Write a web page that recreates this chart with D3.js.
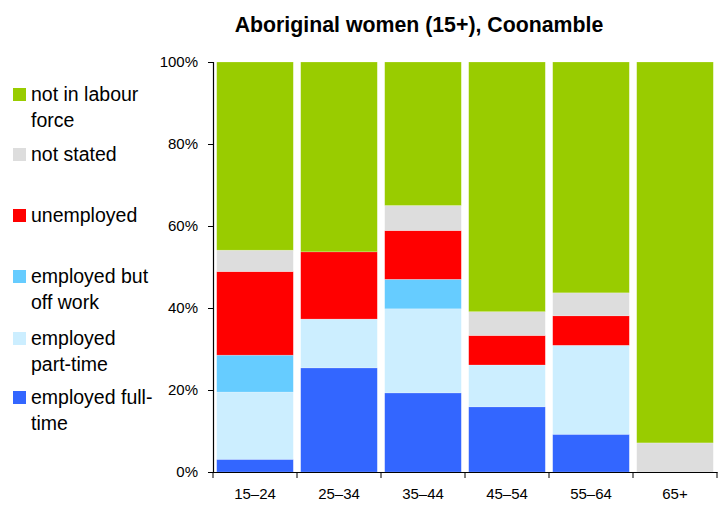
<!DOCTYPE html>
<html>
<head>
<meta charset="utf-8">
<script src="https://cdn.jsdelivr.net/npm/d3@7"></script>
<style>
  body { margin: 0; background: #fff; }
  text { font-family: "Liberation Sans", Arial, sans-serif; fill: #000; }
</style>
</head>
<body>
<script>
var width = 727,
    height = 506;

var margin = ({ top: 62, right: 10, bottom: 34, left: 213 });

// age groups along the bottom
var age_groups = ['15–24', '25–34', '35–44', '45–54', '55–64', '65+'];

// percentages per series, bottom to top of each bar
var employed_full_time = [3.1, 25.4, 19.3, 15.9, 9.2, 0];
var employed_part_time = [16.4, 11.9, 20.5, 10.2, 21.7, 0];
var employed_off_work  = [9.0, 0, 7.2, 0, 0, 0];
var unemployed         = [20.4, 16.4, 11.9, 7.2, 7.2, 0];
var not_stated         = [5.2, 0, 6.1, 5.8, 5.6, 7.1];
var not_in_labour      = [45.9, 46.3, 35.0, 60.9, 56.3, 92.9];

var y_ticks = [0, 20, 40, 60, 80, 100];

var series_info = [
    { key: 'ft', label: ['employed full-', 'time'], values: employed_full_time, color: '#3366ff' },
    { key: 'pt', label: ['employed', 'part-time'], values: employed_part_time, color: '#cceeff' },
    { key: 'ow', label: ['employed but', 'off work'], values: employed_off_work, color: '#66ccff' },
    { key: 'un', label: ['unemployed'], values: unemployed, color: '#ff0000' },
    { key: 'ns', label: ['not stated'], values: not_stated, color: '#dddddd' },
    { key: 'nilf', label: ['not in labour', 'force'], values: not_in_labour, color: '#99cc00' }
];

var table = age_groups.map(function(g, i) {
    var row = { group: g };
    series_info.forEach(function(s) { row[s.key] = s.values[i]; });
    return row;
});

var stacked = d3.stack().keys(series_info.map(function(s) { return s.key; }))(table);

var svg = d3.select('body')
    .append('svg')
    .attr('width', width)
    .attr('height', height);

var plot_w = 504,
    plot_h = 410;

var x = d3.scaleBand()
    .domain(age_groups)
    .range([0, plot_w])
    .paddingInner(0.088)
    .paddingOuter(0.044);

var y = d3.scaleLinear()
    .domain([0, 100])
    .range([plot_h, 0]);

var color = d3.scaleOrdinal()
    .domain(series_info.map(function(s) { return s.key; }))
    .range(series_info.map(function(s) { return s.color; }));

var g = svg.append('g')
    .attr('transform', `translate(${margin.left}, ${margin.top})`);

g.selectAll('g.layer')
    .data(stacked)
    .enter()
    .append('g')
    .attr('class', 'layer')
    .attr('fill', function(d) { return color(d.key); })
    .selectAll('rect')
    .data(function(d) { return d; })
    .enter()
    .append('rect')
    .attr('x', function(d) { return x(d.data.group); })
    .attr('y', function(d) { return y(d[1]); })
    .attr('width', x.bandwidth())
    .attr('height', function(d) { return y(d[0]) - y(d[1]); })
    .attr('stroke', '#ffffff')
    .attr('stroke-opacity', 0.35)
    .attr('stroke-width', 0.6);

// y axis
var y_axis = g.append('g')
    .call(d3.axisLeft(y)
        .tickValues(y_ticks)
        .tickSize(5)
        .tickPadding(10)
        .tickFormat(function(d) { return d + '%'; }));

// x axis, ticks at band boundaries
var x_axis = g.append('g')
    .attr('transform', `translate(0, ${plot_h})`)
    .call(d3.axisBottom(x).tickSize(0).tickPadding(16));

x_axis.selectAll('.tick line').remove();

var bounds = age_groups.map(function(a) { return x(a) - x.step() * x.paddingInner() / 2; });
bounds.push(plot_w);
x_axis.selectAll('line.sep')
    .data(bounds)
    .enter()
    .append('line')
    .attr('class', 'sep')
    .attr('x1', function(d) { return d; })
    .attr('x2', function(d) { return d; })
    .attr('y1', 0)
    .attr('y2', 6)
    .attr('stroke', '#000');

[y_axis, x_axis].forEach(function(a) {
    a.select('.domain').attr('stroke', '#000').attr('stroke-width', 1.2);
    a.selectAll('text')
        .style('font-family', '"Liberation Sans", Arial, sans-serif')
        .style('font-size', '15px')
        .attr('fill', '#000');
});

// title
svg.append('text')
    .attr('x', 419)
    .attr('y', 32)
    .attr('text-anchor', 'middle')
    .style('font-size', '21.3px')
    .style('font-weight', 700)
    .text('Aboriginal women (15+), Coonamble');

// legend, top to bottom
var legend_data = series_info.slice().reverse();
var legend_y = [101, 161, 222, 283, 345, 404];

var legend = svg.append('g')
    .selectAll('g')
    .data(legend_data)
    .enter()
    .append('g')
    .attr('transform', function(d, i) { return `translate(13, ${legend_y[i]})`; });

legend.append('rect')
    .attr('x', 0)
    .attr('y', -13)
    .attr('width', 13)
    .attr('height', 13)
    .attr('fill', function(d) { return d.color; });

legend.append('text')
    .attr('x', 18)
    .attr('y', 0)
    .style('font-size', '19.5px')
    .selectAll('tspan')
    .data(function(d) { return d.label; })
    .enter()
    .append('tspan')
    .attr('x', 18)
    .attr('dy', function(d, i) { return i === 0 ? 0 : 26; })
    .text(function(d) { return d; });
</script>
</body>
</html>
